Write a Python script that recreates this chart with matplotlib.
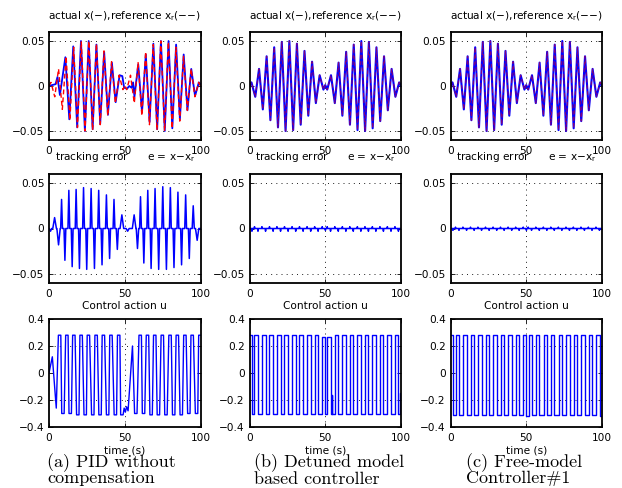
import matplotlib
matplotlib.use("Agg")
import matplotlib.pyplot as plt

plt.rcParams['font.family'] = ['DejaVu Sans']
plt.rcParams['mathtext.default'] = 'regular'
plt.rcParams['axes.unicode_minus'] = True

# ---------------- data ----------------
# reference trajectory x_r : extrema (time s, value)
ref_t = [0.0, 1.3, 3.8, 6.3, 8.8, 11.3, 13.8, 16.3, 18.8, 21.3, 23.8, 26.3, 28.8, 31.3, 33.8,
         36.3, 38.8, 41.3, 43.8, 46.3, 48.8, 50.0, 51.3, 53.8, 56.3, 58.8, 61.3, 63.8, 66.3,
         68.8, 71.3, 73.8, 76.3, 78.8, 81.3, 83.8, 86.3, 88.8, 91.3, 93.8, 96.3, 98.8, 100.0]
ref_v = [0.0, 0.004, -0.012, 0.019, -0.026, 0.033, -0.038, 0.043, -0.046, 0.049, -0.050, 0.050,
         -0.049, 0.047, -0.043, 0.039, -0.033, 0.027, -0.019, 0.012, -0.004, 0.001, -0.004,
         0.012, -0.019, 0.026, -0.033, 0.038, -0.043, 0.046, -0.049, 0.050, -0.050, 0.049,
         -0.047, 0.043, -0.039, 0.033, -0.027, 0.019, -0.012, 0.004, 0.0]

# actual x with the PID (panel a): extrema
xa_t = [0.0, 2.0, 4.3, 5.6, 7.2, 10.8, 13.4, 16.0, 18.6, 21.1, 23.7, 26.2, 28.8, 31.3, 33.8,
        36.4, 38.9, 41.5, 44.0, 46.6, 48.4, 49.6, 51.5, 53.0, 54.5, 55.5, 56.4, 58.9, 61.4,
        63.9, 66.4, 68.9, 71.4, 73.9, 76.4, 78.9, 81.4, 83.9, 86.4, 88.9, 91.4, 93.9, 96.4,
        98.9, 100.0]
xa_v = [0.0, 0.001, 0.002, 0.010, -0.010, 0.032, -0.037, 0.044, -0.046, 0.050, -0.050, 0.050,
        -0.048, 0.046, -0.042, 0.038, -0.032, 0.026, -0.018, 0.012, 0.011, -0.002, -0.003,
        0.000, -0.002, 0.004, -0.012, 0.024, -0.029, 0.035, -0.040, 0.047, -0.048, 0.050,
        -0.050, 0.050, -0.047, 0.046, -0.037, 0.035, -0.027, 0.019, -0.011, 0.004, 0.002]

# tracking error, panel a: spike peaks (time, value, half base width)
ea_t = [1.0, 3.7, 6.3, 8.3, 10.5, 13.1, 15.3, 17.9, 20.1, 22.8, 24.9, 27.8, 30.0, 32.8, 35.0,
        37.9, 40.0, 42.9, 45.1, 48.1, 51.9, 56.2, 58.4, 60.4, 62.6, 65.2, 67.4, 70.0, 72.4,
        75.1, 77.5, 80.1, 82.5, 85.1, 87.5, 90.2, 92.6, 95.2, 97.8]
ea_v = [-0.003, 0.012, -0.018, 0.032, -0.035, 0.042, -0.042, 0.043, -0.044, 0.045, -0.045,
        0.044, -0.044, 0.042, -0.040, 0.037, -0.033, 0.032, -0.023, 0.015, -0.003, 0.015,
        -0.022, 0.035, -0.038, 0.042, -0.044, 0.044, -0.045, 0.046, -0.045, 0.045, -0.043,
        0.040, -0.040, 0.037, -0.033, 0.025, -0.013]
ea_w = [0.8, 1.2, 1.1, 0.6, 0.6, 0.6, 0.6, 0.6, 0.6, 0.6, 0.6, 0.6, 0.6, 0.6, 0.6, 0.6, 0.6,
        0.6, 0.7, 1.2, 1.0, 1.2, 0.8, 0.6, 0.6, 0.6, 0.6, 0.6, 0.6, 0.6, 0.6, 0.6, 0.6, 0.6,
        0.6, 0.6, 0.6, 0.7, 1.1]

# tracking error, panels b and c: tiny spikes at the switching instants
eb_t = [1.6, 3.3, 5.6, 8.2, 10.6, 13.2, 15.6, 18.1, 20.5, 23.1, 25.5, 28.1, 30.5, 33.0, 35.4,
        38.0, 40.4, 43.0, 45.3, 48.0, 50.1, 51.3, 53.5, 56.3, 58.6, 61.3, 63.6, 66.2, 68.5,
        71.2, 73.5, 76.2, 78.5, 81.1, 83.4, 86.1, 88.4, 91.0, 93.4, 96.0, 98.3]
eb_v = [-0.003, 0.002, -0.003, 0.002, -0.003, 0.002, -0.003, 0.002, -0.003, 0.002, -0.003,
        0.002, -0.003, 0.002, -0.003, 0.002, -0.003, 0.002, -0.003, 0.002, -0.002, 0.002,
        -0.003, 0.002, -0.003, 0.002, -0.003, 0.002, -0.003, 0.002, -0.003, 0.002, -0.003,
        0.002, -0.003, 0.002, -0.003, 0.002, -0.003, 0.002, -0.003]
ec_v = [-0.002, 0.0015, -0.002, 0.0015, -0.002, 0.0015, -0.002, 0.0015, -0.002, 0.0015,
        -0.002, 0.0015, -0.002, 0.0015, -0.002, 0.0015, -0.002, 0.0015, -0.002, 0.0015,
        -0.002, 0.0015, -0.002, 0.0015, -0.002, 0.0015, -0.002, 0.0015, -0.002, 0.0015,
        -0.002, 0.0015, -0.002, 0.0015, -0.002, 0.0015, -0.002, 0.0015, -0.002, 0.0015, -0.002]

# control action, panel a: plateau centres, levels, half widths
ua_t = [0.0, 2.2, 4.8, 7.0, 9.2, 11.8, 14.0, 16.4, 19.0, 21.2, 23.9, 26.0, 28.9, 31.1, 33.7,
        35.9, 38.7, 40.9, 43.8, 46.0, 48.1, 49.6, 50.4, 51.2, 52.2, 55.1, 57.3, 60.2, 62.4,
        65.0, 67.4, 69.8, 72.2, 74.8, 77.2, 79.9, 82.3, 84.7, 87.3, 89.7, 92.3, 94.5, 97.4, 99.4]
ua_v = [0.0, 0.12, -0.26, 0.28, -0.30, 0.28, -0.30, 0.28, -0.31, 0.28, -0.31, 0.28, -0.31,
        0.28, -0.31, 0.28, -0.31, 0.28, -0.31, 0.28, -0.31, -0.26, -0.29, -0.25, -0.28, 0.20,
        -0.30, 0.28, -0.30, 0.28, -0.31, 0.28, -0.31, 0.28, -0.31, 0.28, -0.31, 0.28, -0.31,
        0.28, -0.30, 0.28, -0.30, 0.28]
ua_w = [0, 0, 0, 0.8, 0.8, 0.8, 0.8, 0.8, 0.8, 0.8, 0.8, 0.8, 0.8, 0.8, 0.8, 0.8, 0.8, 0.8,
        0.8, 0.8, 0.8, 0, 0, 0, 0, 0, 0.8, 0.8, 0.8, 0.8, 0.8, 0.8, 0.8, 0.8, 0.8, 0.8, 0.8,
        0.8, 0.8, 0.8, 0.8, 0.8, 0.8, 0.6]

# control action, panels b and c: switching instants and levels
ub_t = [0.0, 1.6, 3.3, 5.6, 8.2, 10.6, 13.2, 15.6, 18.1, 20.5, 23.1, 25.5, 28.1, 30.5, 33.0,
        35.4, 38.0, 40.4, 43.0, 45.3, 48.0, 50.1, 51.3, 53.5, 54.3, 54.5, 56.3, 58.6, 61.3,
        63.6, 66.2, 68.5, 71.2, 73.5, 76.2, 78.5, 81.1, 83.4, 86.1, 88.4, 91.0, 93.4, 96.0,
        98.3, 99.6, 100.0]
ub_v = [0.28, -0.30, 0.28, -0.30, 0.28, -0.30, 0.28, -0.30, 0.28, -0.30, 0.28, -0.30, 0.28,
        -0.30, 0.28, -0.30, 0.28, -0.30, 0.28, -0.30, 0.27, -0.30, 0.27, -0.30, -0.16, -0.30,
        0.28, -0.30, 0.28, -0.30, 0.28, -0.30, 0.28, -0.30, 0.28, -0.30, 0.28, -0.30, 0.28,
        -0.30, 0.28, -0.30, 0.28, -0.30, -0.15, -0.15]
uc_t = [0.0, 1.6, 3.4, 5.7, 8.3, 10.7, 13.3, 15.7, 18.2, 20.6, 23.2, 25.6, 28.2, 30.6, 33.1,
        35.5, 38.1, 40.5, 43.1, 45.4, 48.0, 49.6, 51.5, 53.8, 56.4, 58.7, 61.4, 63.7, 66.3,
        68.6, 71.3, 73.6, 76.3, 78.6, 81.2, 83.5, 86.2, 88.5, 91.1, 93.5, 96.1, 98.4, 100.0]
uc_v = [0.28, -0.31, 0.28, -0.31, 0.28, -0.31, 0.28, -0.31, 0.28, -0.31, 0.28, -0.31, 0.28,
        -0.31, 0.28, -0.31, 0.28, -0.31, 0.28, -0.31, 0.28, -0.32, 0.28, -0.31, 0.28, -0.31,
        0.28, -0.31, 0.28, -0.31, 0.28, -0.31, 0.28, -0.31, 0.28, -0.31, 0.28, -0.31, 0.28,
        -0.31, 0.28, -0.32, -0.32]

top_title = 'actual x(\u2212),reference x$_r$(\u2212\u2212)'
mid_title = 'tracking error      e = x\u2212x$_r$'
bot_title = 'Control action u'
captions = [('(a) PID without', 'compensation'),
            ('(b) Detuned model', 'based controller'),
            ('(c) Free-model', 'Controller#1')]

# ---------------- helpers ----------------
def spikes(ts, vs, ws):
    xs, ys = [0.0], [0.0]
    for t, v, w in zip(ts, vs, ws):
        xs += [t - w, t, t + w]
        ys += [0.0, v, 0.0]
    xs.append(100.0); ys.append(0.0)
    return xs, ys

def plateaus(ts, vs, ws):
    xs, ys = [], []
    for t, v, w in zip(ts, vs, ws):
        if w > 0:
            xs += [t - w, t + w]; ys += [v, v]
        else:
            xs.append(t); ys.append(v)
    return xs, ys

# ---------------- figure ----------------
W, H = 622, 488
fig = plt.figure(figsize=(W / 100, H / 100), dpi=100)
lefts = [49, 249.5, 450.5]
aw = 151.5
rows = [(32, 140), (174, 283), (319, 427)]

BLUE = (0, 0, 1)
RED = (1, 0, 0)
FS = 7.6
DOT = (0, (1.2, 5))

def make_ax(c, r):
    t, b = rows[r]
    ax = fig.add_axes([lefts[c] / W, 1 - b / H, aw / W, (b - t) / H])
    ax.set_xlim(0, 100)
    ax.set_xticks([0, 50, 100])
    ax.set_xticklabels(['0', '50', '100'])
    for s in ax.spines.values():
        s.set_linewidth(1.3)
    ax.tick_params(direction='in', length=3, width=0.6, top=True, right=True,
                   labelsize=FS, pad=4.3)
    ax.tick_params(axis='y', pad=3.4)
    ax.axvline(50, color='k', lw=0.6, ls=DOT, zorder=0)
    return ax

for c in range(3):
    # top row
    ax = make_ax(c, 0)
    ax.set_ylim(-0.06, 0.06)
    ax.set_yticks([-0.05, 0, 0.05])
    ax.set_yticklabels(['\u22120.05', '0', '0.05'])
    for yv in (-0.05, 0.05):
        ax.axhline(yv, color='k', lw=0.6, ls=DOT, zorder=0)
    if c == 0:
        ax.plot(xa_t, xa_v, color=BLUE, lw=1.3)
        ax.plot(ref_t, ref_v, color=RED, lw=1.0, ls=(0, (3.5, 2.2)))
    else:
        ax.plot(ref_t, ref_v, color=BLUE, lw=1.5)
        ax.plot(ref_t, ref_v, color=RED, lw=0.8, ls=(0, (3.5, 2.2)), alpha=0.5)
    ax.set_title(top_title, fontsize=FS, pad=9.2)

    # middle row
    ax = make_ax(c, 1)
    ax.set_ylim(-0.06, 0.06)
    ax.set_yticks([-0.05, 0, 0.05])
    ax.set_yticklabels(['\u22120.05', '0', '0.05'])
    for yv in (-0.05, 0.05):
        ax.axhline(yv, color='k', lw=0.6, ls=DOT, zorder=0)
    if c == 0:
        xs, ys = spikes(ea_t, ea_v, ea_w)
    elif c == 1:
        xs, ys = spikes(eb_t, eb_v, [0.25] * len(eb_t))
    else:
        xs, ys = spikes(eb_t, ec_v, [0.25] * len(eb_t))
    ax.plot(xs, ys, color=BLUE, lw=1.1)
    ax.set_title(mid_title, fontsize=FS, pad=10.0)

    # bottom row
    ax = make_ax(c, 2)
    ax.set_ylim(-0.4, 0.4)
    ax.set_yticks([-0.4, -0.2, 0, 0.2, 0.4])
    ax.set_yticklabels(['\u22120.4', '\u22120.2', '0', '0.2', '0.4'])
    for yv in (-0.2, 0.2):
        ax.axhline(yv, color='k', lw=0.6, ls=DOT, zorder=0)
    if c == 0:
        xs, ys = plateaus(ua_t, ua_v, ua_w)
        ax.plot(xs, ys, color=BLUE, lw=1.0)
    elif c == 1:
        ax.step(ub_t, ub_v, where='post', color=BLUE, lw=1.0)
    else:
        ax.step(uc_t, uc_v, where='post', color=BLUE, lw=1.0)
    ax.set_title(bot_title, fontsize=FS, pad=7.0)
    ax.set_xlabel('time (s)', fontsize=FS, labelpad=1.5)

    # caption
    cx = [47, 254, 466][c]
    fig.text(cx / W, 1 - 467.5 / H, captions[c][0], family=['cmr10', 'DejaVu Serif'],
             fontsize=13, ha='left', va='baseline')
    fig.text(cx / W, 1 - 483.5 / H, captions[c][1], family=['cmr10', 'DejaVu Serif'],
             fontsize=13, ha='left', va='baseline')

fig.savefig('out.png', dpi=100)
